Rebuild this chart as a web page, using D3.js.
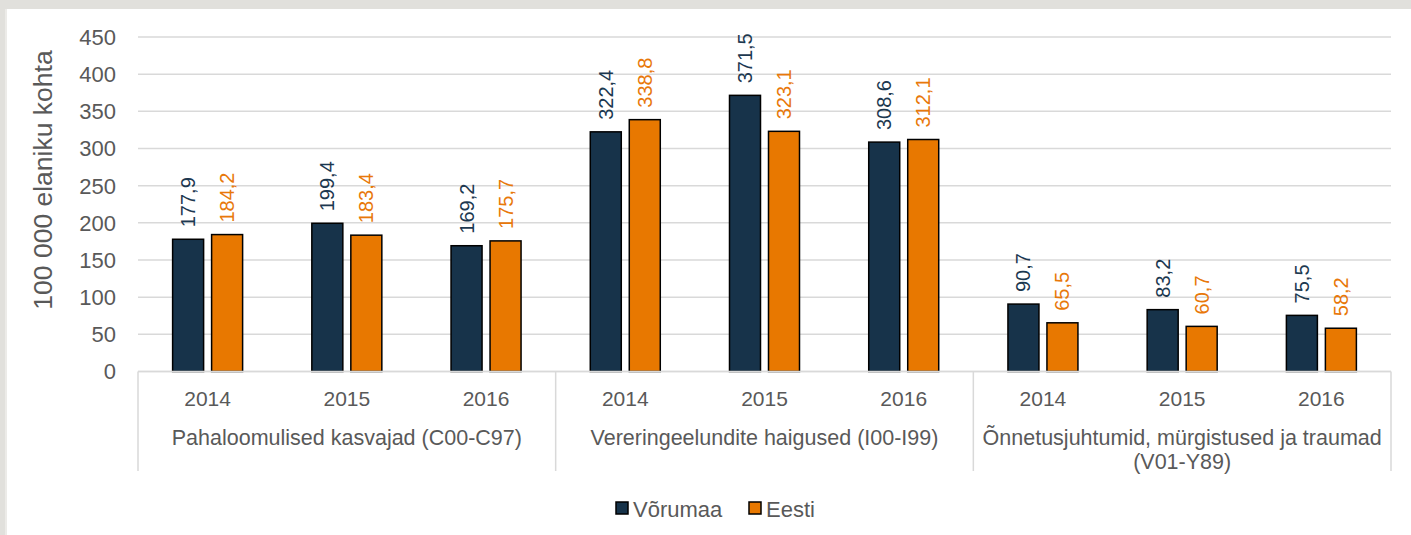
<!DOCTYPE html>
<html>
<head>
<meta charset="utf-8">
<script src="https://cdn.jsdelivr.net/npm/d3@7"></script>
<style>
	html, body { margin: 0; padding: 0; background: #e1e0dc; }
	svg { display: block; }
	text { font-family: "Liberation Sans", Arial, sans-serif; }
</style>
</head>
<body>
<div id="chart"></div>
<script>
// data
var groups = [
	["Pahaloomulised kasvajad (C00-C97)"],
	["Vereringeelundite haigused (I00-I99)"],
	["Õnnetusjuhtumid, mürgistused ja traumad", "(V01-Y89)"]
];
var years = ["2014", "2015", "2016"];
var series = ["Võrumaa", "Eesti"];
var vorumaa = [177.9, 199.4, 169.2, 322.4, 371.5, 308.6, 90.7, 83.2, 75.5];
var eesti = [184.2, 183.4, 175.7, 338.8, 323.1, 312.1, 65.5, 60.7, 58.2];
var yTicks = [0, 50, 100, 150, 200, 250, 300, 350, 400, 450];
var colors = ["#17334a", "#e87800"];
var labelColors = ["#1c3850", "#e8780a"];

var W = 1411, H = 535;
var plotLeft = 138, plotRight = 1391, plotTop = 37, plotBottom = 371.5;

var svg = d3.select("#chart").append("svg")
	.attr("width", W)
	.attr("height", H);

// white panel
svg.append("rect")
	.attr("x", 7).attr("y", 9)
	.attr("width", W - 7).attr("height", H - 9)
	.attr("fill", "#ffffff");
svg.append("line")
	.attr("x1", 6).attr("x2", 6).attr("y1", 9).attr("y2", H)
	.style("stroke", "#ecebe8").style("stroke-width", 2);

var y = d3.scaleLinear().domain([0, 450]).range([plotBottom, plotTop]);

var slots = d3.range(groups.length * years.length);
var x0 = d3.scaleBand().domain(slots).range([plotLeft, plotRight]).padding(0);
var x1 = d3.scaleBand().domain(series).range([0, 70]).paddingInner(0.205);

// gridlines
svg.append("g").selectAll("line")
	.data(yTicks)
	.enter().append("line")
	.attr("x1", plotLeft).attr("x2", plotRight)
	.attr("y1", function(d) { return y(d); })
	.attr("y2", function(d) { return y(d); })
	.style("stroke", "#d9d9d9")
	.style("stroke-width", 1.5);

// y tick labels
svg.append("g").selectAll("text")
	.data(yTicks)
	.enter().append("text")
	.attr("x", 116)
	.attr("y", function(d) { return y(d); })
	.attr("dy", "0.36em")
	.attr("text-anchor", "end")
	.attr("font-size", "22px")
	.attr("fill", "#595959")
	.text(function(d) { return d; });

// y title
svg.append("text")
	.attr("transform", "translate(52,180) rotate(-90)")
	.attr("text-anchor", "middle")
	.attr("font-size", "26.5px")
	.attr("fill", "#595959")
	.text("100 000 elaniku kohta");

// bars
var allValues = [vorumaa, eesti];
var barG = svg.append("g");
series.forEach(function(s, si) {
	var vals = allValues[si];
	barG.selectAll("rect.s" + si)
		.data(vals)
		.enter().append("rect")
		.attr("class", "s" + si)
		.attr("x", function(d, i) { return x0(i) + (x0.bandwidth() - 70) / 2 + x1(s); })
		.attr("y", function(d) { return y(d); })
		.attr("width", x1.bandwidth())
		.attr("height", function(d) { return y(0) - y(d); })
		.attr("fill", colors[si])
		.style("stroke", "#000000")
		.style("stroke-width", 1.5);

	barG.selectAll("text.s" + si)
		.data(vals)
		.enter().append("text")
		.attr("class", "s" + si)
		.attr("transform", function(d, i) {
			var cx = x0(i) + (x0.bandwidth() - 70) / 2 + x1(s) + x1.bandwidth() / 2;
			return "translate(" + cx + "," + (y(d) - 12) + ") rotate(-90)";
		})
		.attr("dy", "0.35em")
		.attr("text-anchor", "start")
		.attr("font-size", "20px")
		.attr("fill", labelColors[si])
		.text(function(d) { return d.toFixed(1).replace(".", ","); });
});

// x axis line
svg.append("line")
	.attr("x1", plotLeft).attr("x2", plotRight)
	.attr("y1", y(0)).attr("y2", y(0))
	.style("stroke", "#d9d9d9").style("stroke-width", 1.5);

// year labels
svg.append("g").selectAll("text")
	.data(slots)
	.enter().append("text")
	.attr("x", function(i) { return x0(i) + x0.bandwidth() / 2; })
	.attr("y", 406)
	.attr("text-anchor", "middle")
	.attr("font-size", "21px")
	.attr("fill", "#595959")
	.text(function(i) { return years[i % years.length]; });

// group separators
var sepIdx = d3.range(groups.length + 1);
svg.append("g").selectAll("line")
	.data(sepIdx)
	.enter().append("line")
	.attr("x1", function(g) { return g < groups.length ? x0(g * years.length) : plotRight; })
	.attr("x2", function(g) { return g < groups.length ? x0(g * years.length) : plotRight; })
	.attr("y1", y(0)).attr("y2", 471)
	.style("stroke", "#d9d9d9").style("stroke-width", 1.5);

// group labels
groups.forEach(function(lines, g) {
	var cx = x0(g * years.length) + x0.bandwidth() * years.length / 2;
	var t = svg.append("text")
		.attr("text-anchor", "middle")
		.attr("font-size", "21.5px")
		.attr("fill", "#595959");
	lines.forEach(function(line, li) {
		t.append("tspan")
			.attr("x", cx)
			.attr("y", 445 + li * 24)
			.text(line);
	});
});

// legend
var legendX = [616, 749];
series.forEach(function(s, si) {
	svg.append("rect")
		.attr("x", legendX[si]).attr("y", 502)
		.attr("width", 12).attr("height", 12)
		.attr("fill", colors[si])
		.style("stroke", "#000000").style("stroke-width", 1.5);
	svg.append("text")
		.attr("x", legendX[si] + 17)
		.attr("y", 517)
		.attr("font-size", "22px")
		.attr("fill", "#595959")
		.text(s);
});
</script>
</body>
</html>
